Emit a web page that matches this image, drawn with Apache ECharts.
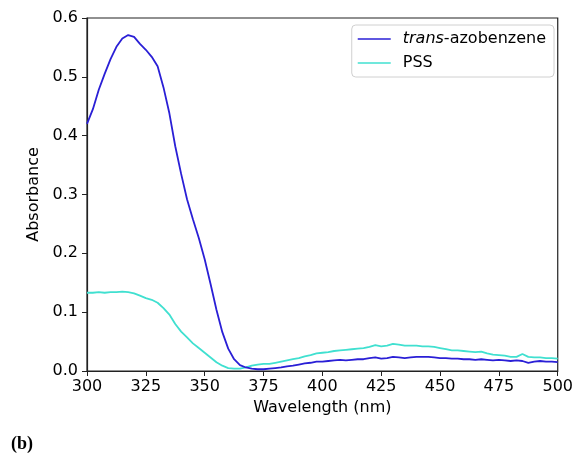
<!DOCTYPE html>
<html><head><meta charset="utf-8">
<script src="https://cdn.jsdelivr.net/npm/echarts@6/dist/echarts.min.js"></script>
<style>html,body{margin:0;padding:0;background:#fff}#c{width:576px;height:454px}</style>
</head><body><div id="c"></div>
<script>
var wavelengths = [300,302.5,305,307.5,310,312.5,315,317.5,320,322.5,325,327.5,330,332.5,335,337.5,340,342.5,345,347.5,350,352.5,355,357.5,360,362.5,365,367.5,370,372.5,375,377.5,380,382.5,385,387.5,390,392.5,395,397.5,400,402.5,405,407.5,410,412.5,415,417.5,420,422.5,425,427.5,430,432.5,435,437.5,440,442.5,445,447.5,450,452.5,455,457.5,460,462.5,465,467.5,470,472.5,475,477.5,480,482.5,485,487.5,490,492.5,495,497.5,500];
var transAbs = [0.420,0.445,0.478,0.505,0.530,0.551,0.565,0.571,0.568,0.556,0.546,0.534,0.518,0.482,0.438,0.382,0.335,0.292,0.258,0.226,0.190,0.148,0.104,0.066,0.038,0.020,0.010,0.006,0.004,0.003,0.003,0.004,0.005,0.006,0.008,0.009,0.011,0.013,0.014,0.016,0.016,0.017,0.018,0.019,0.018,0.019,0.020,0.020,0.022,0.023,0.021,0.022,0.024,0.023,0.022,0.023,0.024,0.024,0.024,0.023,0.022,0.022,0.021,0.021,0.020,0.020,0.019,0.020,0.019,0.018,0.019,0.018,0.017,0.018,0.017,0.014,0.016,0.017,0.016,0.016,0.015];
var pssAbs = [0.133,0.133,0.134,0.133,0.134,0.134,0.135,0.134,0.132,0.128,0.124,0.121,0.116,0.107,0.096,0.080,0.067,0.057,0.047,0.039,0.031,0.023,0.015,0.009,0.005,0.004,0.004,0.006,0.009,0.011,0.012,0.012,0.014,0.016,0.018,0.020,0.022,0.025,0.027,0.030,0.031,0.032,0.034,0.035,0.036,0.037,0.038,0.039,0.041,0.044,0.042,0.043,0.046,0.045,0.043,0.043,0.043,0.042,0.042,0.041,0.039,0.037,0.035,0.035,0.034,0.033,0.032,0.033,0.030,0.028,0.027,0.026,0.024,0.024,0.029,0.024,0.023,0.023,0.022,0.022,0.021];
var seriesNames = ['trans-azobenzene','PSS'];
var colors = ['#2a1fd6','#40e0d0'];
var font = 'DejaVu Sans';

function pairs(ys){ return wavelengths.map(function(x,i){return [x, ys[i]];}); }

var chart = echarts.init(document.getElementById('c'), null, {renderer:'canvas'});
chart.setOption({
  animation:false,
  backgroundColor:'#fff',
  grid:{left:87,right:14,top:18,bottom:83,show:true,borderColor:'#222',borderWidth:1.2,backgroundColor:'transparent'},
  legend:{
    orient:'vertical', right:22, top:25,
    data:seriesNames.map(function(n,i){return {name:n, icon:'rect', itemStyle:{color:colors[i]}};}),
    itemWidth:33, itemHeight:1.5, itemGap:8,
    padding:[6,8,6,6],
    borderColor:'#d0d0d0', borderWidth:1, borderRadius:4,
    formatter:function(n){ return n==='trans-azobenzene' ? '{i|trans}{n|-azobenzene}' : '{n|'+n+'}'; },
    textStyle:{fontFamily:font,fontSize:16,color:'#000',padding:[0,0,0,7],
      rich:{i:{fontStyle:'italic',fontFamily:font,fontSize:16,color:'#000'},n:{fontFamily:font,fontSize:16,color:'#000'}}}
  },
  xAxis:{
    type:'value', min:300, max:500, interval:25,
    name:'Wavelength (nm)', nameLocation:'middle', nameGap:28,
    nameTextStyle:{fontFamily:font,fontSize:16,color:'#000'},
    axisLine:{show:true,onZero:false,lineStyle:{color:'#222',width:1.2}},
    axisTick:{show:true,length:5,lineStyle:{color:'#222'}},
    axisLabel:{fontFamily:font,fontSize:16,color:'#000',margin:8},
    splitLine:{show:false}
  },
  yAxis:{
    type:'value', min:0, max:0.6, interval:0.1,
    name:'Absorbance', nameLocation:'middle', nameGap:37,
    nameTextStyle:{fontFamily:font,fontSize:16,color:'#000'},
    axisLine:{show:true,lineStyle:{color:'#222',width:1.2}},
    axisTick:{show:true,length:5,lineStyle:{color:'#222'}},
    axisLabel:{fontFamily:font,fontSize:16,color:'#000',margin:9,formatter:function(v){return v.toFixed(1);}},
    splitLine:{show:false}
  },
  series:[
    {name:seriesNames[0],type:'line',data:pairs(transAbs),showSymbol:false,symbol:'none',lineStyle:{color:colors[0],width:1.8},itemStyle:{color:colors[0]},z:3},
    {name:seriesNames[1],type:'line',data:pairs(pssAbs),showSymbol:false,symbol:'none',lineStyle:{color:colors[1],width:1.8},itemStyle:{color:colors[1]},z:2}
  ],
  graphic:[{type:'text',left:11,top:435,style:{text:'(b)',font:'bold 18px "Liberation Serif", serif',fill:'#000'}}]
});
</script></body></html>
